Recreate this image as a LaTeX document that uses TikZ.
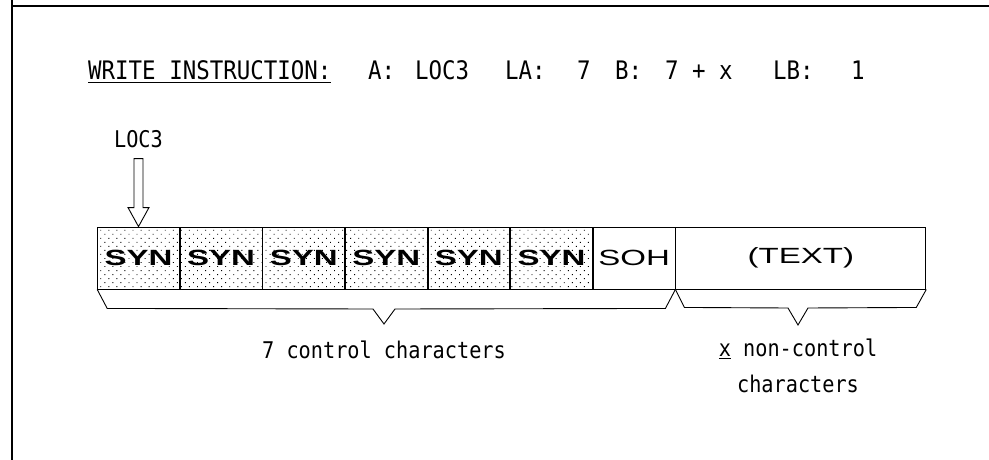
\documentclass[tikz,border=0pt]{standalone}
\usepackage{fontspec}
\newfontfamily\cellfont[FakeStretch=1.5]{Liberation Sans}
\newfontfamily\typerfont[FakeStretch=0.88]{DejaVu Sans Mono}
\usetikzlibrary{positioning,calc,patterns.meta}
\newcommand\typer{\typerfont\fontsize{23}{36}\selectfont}

\tikzset{
  charbox/.style={draw, line width=0.9pt, minimum width=81.7pt, minimum height=62pt,
    inner sep=0pt, font=\cellfont\fontsize{22}{22}\selectfont},
  synbox/.style={charbox, pattern={Dots[distance=5.7pt, angle=45, radius=0.65pt]},
    font=\cellfont\bfseries\fontsize{22}{22}\selectfont},
  typed/.style={font=\typer, inner sep=0pt},
  headtyped/.style={typed, font=\typerfont\fontsize{25.5}{30}\selectfont, anchor=base west},
}

\begin{document}
\begin{tikzpicture}[x=1pt,y=-1pt]
  \useasboundingbox (0,0) rectangle (989,460);

  % frame
  \draw[line width=2.5pt] (12,6) -- (989,6);
  \draw[line width=1.5pt] (12,0) -- (12,460);

  % instruction line
  \node[headtyped] (wi) at (88,80) {\underline{WRITE INSTRUCTION:}};
  \node[headtyped] (ka) at (368,80) {A:};
  \node[headtyped] (va) at (415,80) {LOC3};
  \node[headtyped] (kla) at (505,80) {LA:};
  \node[headtyped] (vla) at (577,80) {7};
  \node[headtyped] (kb) at (615,80) {B:};
  \node[headtyped] (vb) at (665,80) {7 + x};
  \node[headtyped] (klb) at (773,80) {LB:};
  \node[headtyped] (vlb) at (851,80) {1};

  % character boxes
  \node[synbox] (s1) at (138.5,258) {SYN};
  \foreach \i [count=\j from 2] in {1,...,5}
    \node[synbox, right=0pt of s\i] (s\j) {SYN};
  \node[charbox, right=0pt of s6] (soh) {SOH};
  \node[charbox, minimum width=250pt, right=0pt of soh] (txt) {(TEXT)};

  % pointer
  \node[typed, anchor=base] (loc) at (138.5,147) {LOC3};
  \draw[line width=0.9pt] (s1.north) -- ++(-10.5,-19) -- ++(6,0) -- ++(0,-49)
    -- ++(9,0) -- ++(0,49) -- ++(6,0) -- cycle;

  % braces
  \coordinate (tip1) at (384,324);
  \coordinate (tip2) at (798,325);
  \draw[line width=0.9pt] (s1.south west) -- ++(10,19) -- ($(tip1)+(-11,-15)$) -- (tip1)
    -- ++(11,-15) -- ($(soh.south east)+(-10,19)$) -- (soh.south east);
  \draw[line width=0.9pt] (soh.south east) -- ++(9,18) -- ($(tip2)+(-10,-17)$) -- (tip2)
    -- ++(10,-17) -- ($(txt.south east)+(-10,18)$) -- (txt.south east);

  \node[typed, anchor=base] (ctl) at ($(tip1)+(0,34)$) {7 control characters};
  \node[typed, anchor=north, align=center] (nctl) at ($(tip2)+(0,14)$)
    {\underline{x} non-control\\characters};

\end{tikzpicture}
\end{document}
